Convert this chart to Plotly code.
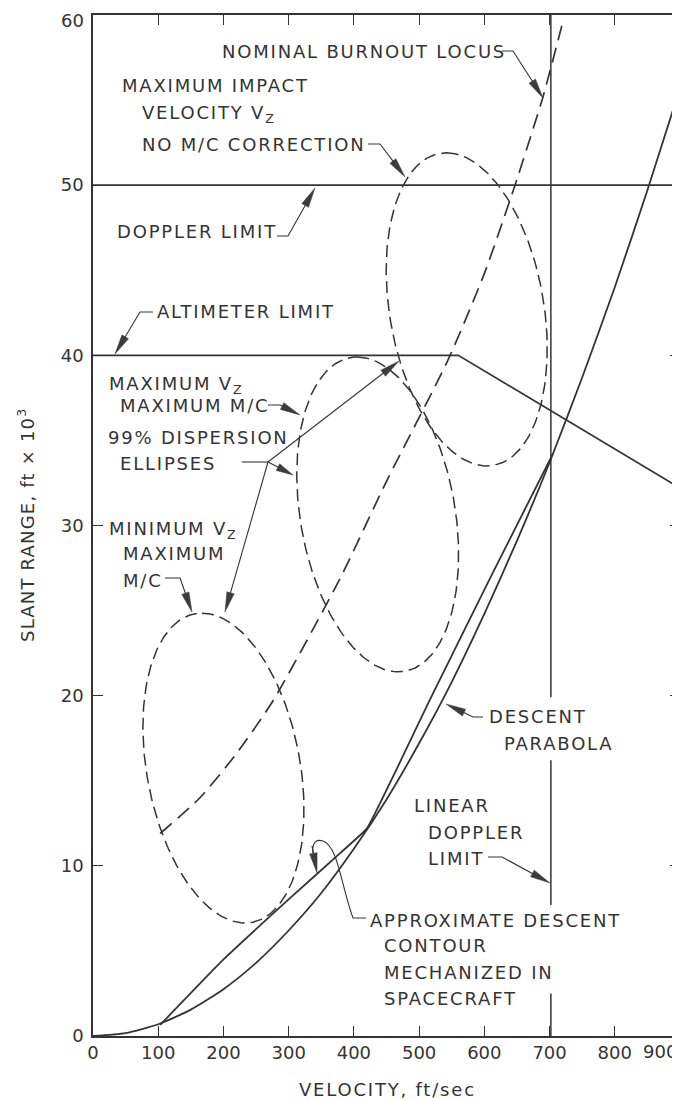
import math
import numpy as np
import plotly.graph_objects as go

# ---------------- data ----------------
velocity_ticks = [0, 100, 200, 300, 400, 500, 600, 700, 800]
range_ticks = [0, 10, 20, 30, 40, 50, 60]

# Descent parabola (ft/sec, ft x 10^3)
parabola_velocity = [0, 50, 100, 150, 200, 250, 300, 350, 400, 450, 500, 550, 600, 650, 700, 750, 800, 850, 900]
parabola_range = [0, 0.17, 0.69, 1.55, 2.75, 4.3, 6.2, 8.4, 11.0, 13.9, 17.2, 20.8, 24.8, 29.1, 33.7, 38.7, 44.0, 49.7, 55.7]

# Approximate descent contour mechanized in spacecraft
contour_velocity = [103, 200, 302, 379, 420, 517, 610, 705]
contour_range = [0.65, 4.5, 8.1, 10.75, 12.2, 19.8, 27.0, 34.2]

# Nominal burnout locus
burnout_velocity = [103, 164, 220, 276, 379, 450, 544, 600, 647, 690, 721]
burnout_range = [11.9, 14.0, 16.6, 19.7, 26.9, 32.6, 39.7, 44.8, 50.0, 55.2, 59.7]

# Doppler limit (horizontal)
doppler_limit_range = 50
# Altimeter limit
altimeter_velocity = [0, 560, 900]
altimeter_range = [40, 40, 32.2]
# Linear Doppler limit (vertical), drawn in pieces around the lettering
linear_doppler_velocity = 702
linear_doppler_pieces = [(60, 19.9), (16.2, 7.7), (2.5, 0)]

# 99% dispersion ellipses: top point, bottom point, horizontal half-width
ellipse_names = ["MINIMUM VZ MAXIMUM M/C", "MAXIMUM VZ MAXIMUM M/C", "MAXIMUM IMPACT VZ NO M/C CORRECTION"]
ellipse_top_velocity = [167, 405, 542]
ellipse_top_range = [24.85, 39.9, 51.9]
ellipse_bottom_velocity = [233, 468, 604]
ellipse_bottom_range = [6.64, 21.4, 33.5]
ellipse_half_width = [119, 120, 119.5]

# ---------------- styling ----------------
INK = "#343434"
FONT = "DejaVu Sans"
# page has an 8px body margin; figure is sized/offset so the plot lands on the reference frame
OFF = 8
W, H = 680 - OFF, 1100 - OFF
ML, MR, MT, MB = 93 - OFF, 0, 15 - OFF, 64
PW, PH = W - ML - MR, H - MT - MB


def paper(px, py):
    """reference pixel -> paper coordinates"""
    return (px - OFF - ML) / PW, (H - MB - (py - OFF)) / PH


def spaced(t, sp=1.8):
    return f"<span style='letter-spacing:{sp}px'>{t}</span>"


fig = go.Figure()

line_solid = dict(color=INK, width=1.7)

# Doppler limit
fig.add_trace(go.Scatter(x=[0, 900], y=[doppler_limit_range] * 2, mode="lines", line=line_solid))
# Altimeter limit
fig.add_trace(go.Scatter(x=altimeter_velocity, y=altimeter_range, mode="lines", line=line_solid))
# Linear Doppler limit
lx, ly = [], []
for a, b in linear_doppler_pieces:
    lx += [linear_doppler_velocity, linear_doppler_velocity, None]
    ly += [a, b, None]
fig.add_trace(go.Scatter(x=lx, y=ly, mode="lines", line=dict(color=INK, width=1.5)))
# Descent parabola
fig.add_trace(go.Scatter(x=parabola_velocity, y=parabola_range, mode="lines",
                         line=dict(color=INK, width=1.8, shape="spline", smoothing=0.6)))
# Approximate descent contour
fig.add_trace(go.Scatter(x=contour_velocity, y=contour_range, mode="lines",
                         line=dict(color=INK, width=1.8, shape="spline", smoothing=0.3)))
# Nominal burnout locus
fig.add_trace(go.Scatter(x=burnout_velocity, y=burnout_range, mode="lines",
                         line=dict(color=INK, width=1.7, dash="15px,8px", shape="spline", smoothing=0.6)))
# Dispersion ellipses
t = np.linspace(0, 2 * np.pi, 241)
for tv, ts, bv, bs, h in zip(ellipse_top_velocity, ellipse_top_range, ellipse_bottom_velocity,
                             ellipse_bottom_range, ellipse_half_width):
    cv, cs = (tv + bv) / 2, (ts + bs) / 2
    dv, ds = tv - cv, ts - cs
    ev = cv + dv * np.cos(t) + h * np.sin(t)
    es = cs + ds * np.cos(t)
    fig.add_trace(go.Scatter(x=ev, y=es, mode="lines",
                             line=dict(color=INK, width=1.5, dash="12px,6px")))

# ---------------- lettering ----------------
texts = [
    (220, 51, "NOMINAL BURNOUT LOCUS"),
    (120, 86, "MAXIMUM IMPACT"),
    (140, 114, "VELOCITY V<sub>Z</sub>"),
    (140, 144, "NO M/C CORRECTION"),
    (115, 232, "DOPPLER LIMIT"),
    (155, 312, "ALTIMETER LIMIT"),
    (107, 385, "MAXIMUM V<sub>Z</sub>"),
    (118, 406, "MAXIMUM M/C"),
    (106, 438, "99% DISPERSION"),
    (118, 463, "ELLIPSES"),
    (107, 530, "MINIMUM V<sub>Z</sub>"),
    (121, 553, "MAXIMUM"),
    (121, 580, "M/C"),
    (487, 717, "DESCENT"),
    (502, 743, "PARABOLA"),
    (412, 805, "LINEAR"),
    (426, 832, "DOPPLER"),
    (426, 858, "LIMIT"),
    (368, 920, "APPROXIMATE DESCENT"),
    (382, 945, "CONTOUR"),
    (382, 972, "MECHANIZED IN"),
    (382, 998, "SPACECRAFT"),
]
annotations = []
for px, py, txt in texts:
    x, y = paper(px, py)
    annotations.append(dict(x=x, y=y, xref="paper", yref="paper", text=spaced(txt), showarrow=False,
                            xanchor="left", yanchor="middle", font=dict(family=FONT, size=18, color=INK)))

# axis titles, the top "60" label and the clipped "900" label
x, y = paper(26, 525)
annotations.append(dict(x=x, y=y, xref="paper", yref="paper", text=spaced("SLANT RANGE, ft × 10<sup>3</sup>", 1.2),
                        textangle=-90, showarrow=False, xanchor="center", yanchor="middle",
                        font=dict(family=FONT, size=18, color=INK)))
x, y = paper(388, 1089)
annotations.append(dict(x=x, y=y, xref="paper", yref="paper", text=spaced("VELOCITY, ft/sec"),
                        showarrow=False, xanchor="center", yanchor="middle",
                        font=dict(family=FONT, size=18, color=INK)))
x, y = paper(660, 1051)
annotations.append(dict(x=x, y=y, xref="paper", yref="paper", text="900",
                        showarrow=False, xanchor="center", yanchor="middle",
                        font=dict(family=FONT, size=18, color=INK)))
x, y = paper(86, 21)
annotations.append(dict(x=x, y=y, xref="paper", yref="paper", text=str(range_ticks[-1]),
                        showarrow=False, xanchor="right", yanchor="middle",
                        font=dict(family=FONT, size=18, color=INK)))

# ---------------- leaders and arrowheads ----------------
shapes = []


def pts_to_path(pts):
    parts = []
    for i, (px, py) in enumerate(pts):
        x, y = paper(px, py)
        parts.append(("M" if i == 0 else "L") + f"{x:.5f},{y:.5f}")
    return " ".join(parts)


def leader(pts, length=20, half=3.8):
    tail, tip = pts[-2], pts[-1]
    dx, dy = tip[0] - tail[0], tip[1] - tail[1]
    n = math.hypot(dx, dy)
    ux, uy = dx / n, dy / n
    bx, by = tip[0] - ux * length, tip[1] - uy * length
    line_pts = pts[:-1] + [(bx + ux * 2, by + uy * 2)]
    shapes.append(dict(type="path", xref="paper", yref="paper", path=pts_to_path(line_pts),
                       line=dict(color=INK, width=1.1)))
    p1 = (bx - uy * half, by + ux * half)
    p2 = (bx + uy * half, by - ux * half)
    shapes.append(dict(type="path", xref="paper", yref="paper",
                       path=pts_to_path([tip, p1, p2]) + " Z",
                       fillcolor="#3c3c3c", line=dict(color="#3c3c3c", width=0.5)))


leader([(502, 51), (513, 51), (543, 98)])
leader([(368, 144), (380, 144), (405, 177)])
leader([(277, 236), (288, 236), (315, 188)])
leader([(153, 312), (140, 312), (115, 354)])
leader([(268, 405), (280, 405), (300, 415)])
shapes.append(dict(type="path", xref="paper", yref="paper", path=pts_to_path([(242, 462), (268, 462)]),
                   line=dict(color=INK, width=1.1)))
leader([(268, 462), (399, 361)])
leader([(268, 462), (293, 475)], length=17)
leader([(268, 462), (225, 612)])
leader([(165, 578), (180, 578), (192, 612)])
leader([(483, 717), (473, 717), (446, 704)])
leader([(488, 857), (502, 857), (550, 883)])

# curved leader for the approximate descent contour
a = paper(366, 918); b = paper(353, 918)
c1 = paper(341, 885); c2 = paper(338, 846); e = paper(323, 841)
d1 = paper(313, 838); d2 = paper(312, 848); f = paper(313, 853)
shapes.append(dict(type="path", xref="paper", yref="paper",
                   path=(f"M{a[0]:.5f},{a[1]:.5f} L{b[0]:.5f},{b[1]:.5f} "
                         f"C{c1[0]:.5f},{c1[1]:.5f} {c2[0]:.5f},{c2[1]:.5f} {e[0]:.5f},{e[1]:.5f} "
                         f"C{d1[0]:.5f},{d1[1]:.5f} {d2[0]:.5f},{d2[1]:.5f} {f[0]:.5f},{f[1]:.5f}"),
                   line=dict(color=INK, width=1.1)))
leader([(312, 846), (317, 873)], length=20)

# ---------------- layout ----------------
fig.update_layout(
    width=W, height=H, margin=dict(l=ML, r=MR, t=MT, b=MB, autoexpand=False),
    paper_bgcolor="white", plot_bgcolor="white", showlegend=False,
    annotations=annotations, shapes=shapes,
)
fig.update_xaxes(range=[0, 900], tickvals=velocity_ticks, ticktext=[str(v) for v in velocity_ticks],
                 ticks="inside", ticklen=10, tickwidth=1.3, tickcolor=INK,
                 showline=True, linecolor=INK, linewidth=1.5, mirror="ticks",
                 showgrid=False, zeroline=False, ticklabelstandoff=0, automargin=False,
                 ticklabeloverflow="allow",
                 tickfont=dict(family=FONT, size=18, color=INK))
fig.update_yaxes(range=[0, 60], tickvals=range_ticks,
                 ticktext=[str(v) for v in range_ticks[:-1]] + [""],
                 ticks="inside", ticklen=10, tickwidth=1.3, tickcolor=INK,
                 showline=True, linecolor=INK, linewidth=1.5, mirror="ticks",
                 showgrid=False, zeroline=False, ticklabelstandoff=4, automargin=False,
                 ticklabeloverflow="allow",
                 tickfont=dict(family=FONT, size=18, color=INK))

fig.write_html("out.html")
